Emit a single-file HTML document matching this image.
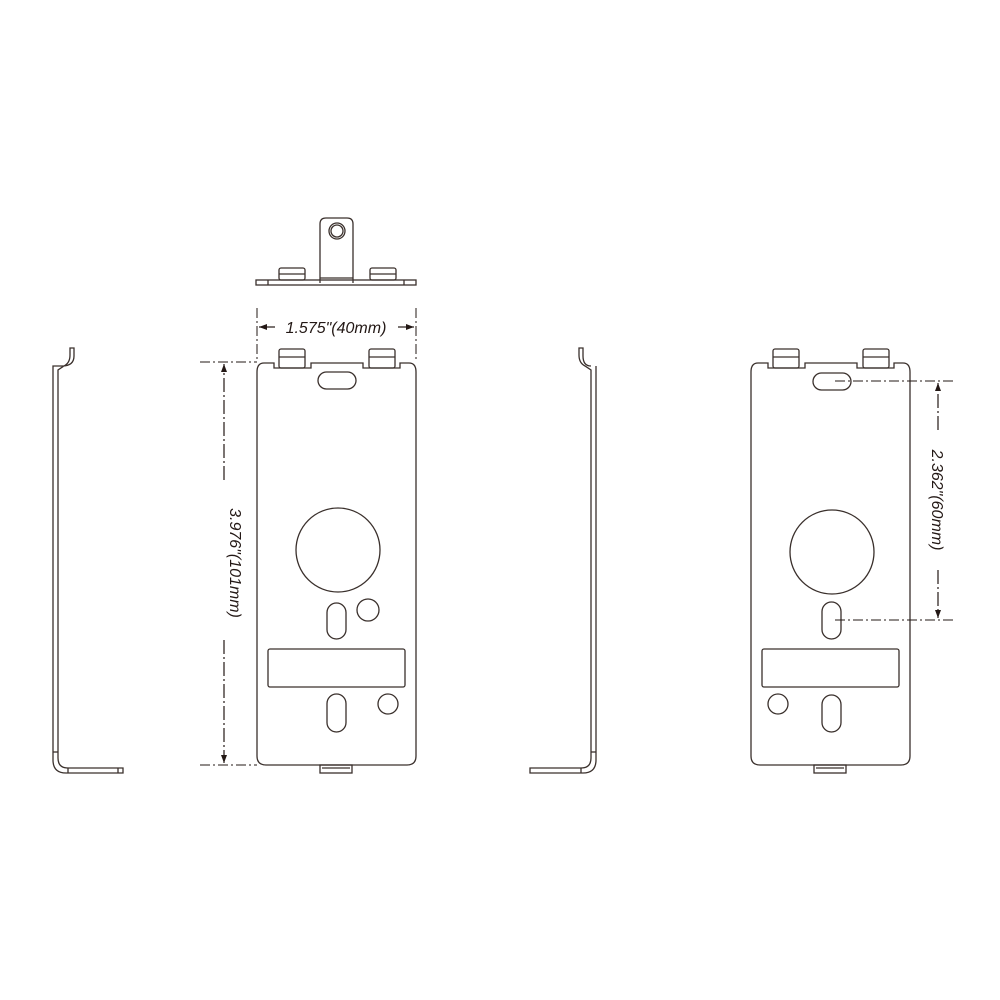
<!DOCTYPE html>
<html><head><style>body{margin:0;background:#fff}svg{display:block}</style></head><body>
<svg width="1000" height="1000" viewBox="0 0 1000 1000" xmlns="http://www.w3.org/2000/svg">
<defs>
<marker id="a" markerWidth="8" markerHeight="8" refX="8" refY="4" orient="auto" markerUnits="userSpaceOnUse"><path d="M0,1 L8,4 L0,7z" fill="#231815"/></marker>
<g id="plate" fill="none" stroke="#3a302c" stroke-width="1.3">
<path d="M257,372 Q257,363 264,363 L274,363 L274,368 L311,368 L311,363 L363,363 L363,368 L400,368 L400,363 L409,363 Q416,363 416,372 L416,756 Q416,765 407,765 L266,765 Q257,765 257,756 Z"/>
<rect x="279" y="349" width="26" height="19" rx="2"/><line x1="279" y1="357" x2="305" y2="357"/>
<rect x="369" y="349" width="26" height="19" rx="2"/><line x1="369" y1="357" x2="395" y2="357"/>
<rect x="320" y="765" width="32" height="8"/><line x1="322" y1="768" x2="350" y2="768"/>
<rect x="268" y="649" width="137" height="38" rx="2"/>
</g>
</defs>
<g fill="none" stroke="#3a302c" stroke-width="1.3">
<!-- top view -->
<path d="M320,283 L320,224 Q320,218 326,218 L347,218 Q353,218 353,224 L353,283"/>
<circle cx="337" cy="231" r="8"/><circle cx="337" cy="231" r="6"/>
<rect x="256" y="280" width="160" height="5"/>
<line x1="268" y1="280" x2="268" y2="285"/><line x1="404" y1="280" x2="404" y2="285"/><line x1="320" y1="278" x2="353" y2="278"/>
<rect x="279" y="268" width="26" height="12" rx="2"/><line x1="279" y1="274" x2="305" y2="274"/>
<rect x="370" y="268" width="26" height="12" rx="2"/><line x1="370" y1="274" x2="396" y2="274"/>
<!-- left plate -->
<use href="#plate"/>
<rect x="318" y="372" width="38" height="17" rx="8.5"/>
<circle cx="338" cy="550" r="42"/>
<rect x="327" y="603" width="19" height="36" rx="9.5"/>
<circle cx="368" cy="610" r="11"/>
<rect x="327" y="694" width="19" height="38" rx="9.5"/>
<circle cx="388" cy="704" r="10"/>
<!-- right plate -->
<use href="#plate" transform="translate(494,0)"/>
<rect x="813" y="373" width="38" height="17" rx="8.5"/>
<circle cx="832" cy="552" r="42"/>
<rect x="822" y="602" width="19" height="37" rx="9.5"/>
<rect x="822" y="695" width="19" height="37" rx="9.5"/>
<circle cx="778" cy="704" r="10"/>
<!-- left profile -->
<path d="M53,366 L53,760 Q53,773 66,773 L123,773 L123,768 L68,768 Q58,768 58,758 L58,370 L64,366 Q70,363 70,355 L70,348 L74,348 L74,356 Q74,366 62,366 Z"/>
<line x1="53" y1="752" x2="58" y2="752"/><line x1="68" y1="768" x2="68" y2="773"/><line x1="118" y1="768" x2="118" y2="773"/>
<!-- right profile -->
<path d="M596,366 L596,760 Q596,773 583,773 L530,773 L530,768 L581,768 Q591,768 591,758 L591,370 L585,366 Q579,363 579,355 L579,348 L583,348 L583,356 Q583,366 591,366"/>
<line x1="591" y1="752" x2="596" y2="752"/><line x1="581" y1="768" x2="581" y2="773"/>
</g>
<g fill="none" stroke="#231815" stroke-width="1" stroke-dasharray="10,3,2,3">
<line x1="257" y1="308" x2="257" y2="360"/><line x1="416" y1="308" x2="416" y2="360"/>
<line x1="200" y1="362" x2="257" y2="362"/><line x1="200" y1="765" x2="257" y2="765"/>
<line x1="835" y1="381" x2="955" y2="381"/><line x1="835" y1="620" x2="955" y2="620"/>
</g>
<g stroke="#231815" stroke-width="1.2" fill="none">
<line x1="275" y1="327" x2="259" y2="327" marker-end="url(#a)"/>
<line x1="398" y1="327" x2="414" y2="327" marker-end="url(#a)"/>
<line x1="224" y1="480" x2="224" y2="364" marker-end="url(#a)" stroke-dasharray="14,3,2,3"/>
<line x1="224" y1="640" x2="224" y2="763" marker-end="url(#a)" stroke-dasharray="14,3,2,3"/>
<line x1="938" y1="430" x2="938" y2="383" marker-end="url(#a)" stroke-dasharray="14,3,2,3"/>
<line x1="938" y1="570" x2="938" y2="618" marker-end="url(#a)" stroke-dasharray="14,3,2,3"/>
</g>
<g font-family="Liberation Sans, sans-serif" font-style="italic" font-size="16" fill="#231815" text-anchor="middle">
<text x="336" y="333">1.575"(40mm)</text>
<text transform="translate(230,563) rotate(90)">3.976"(101mm)</text>
<text transform="translate(932,500) rotate(90)">2.362"(60mm)</text>
</g>
</svg>
</body></html>
